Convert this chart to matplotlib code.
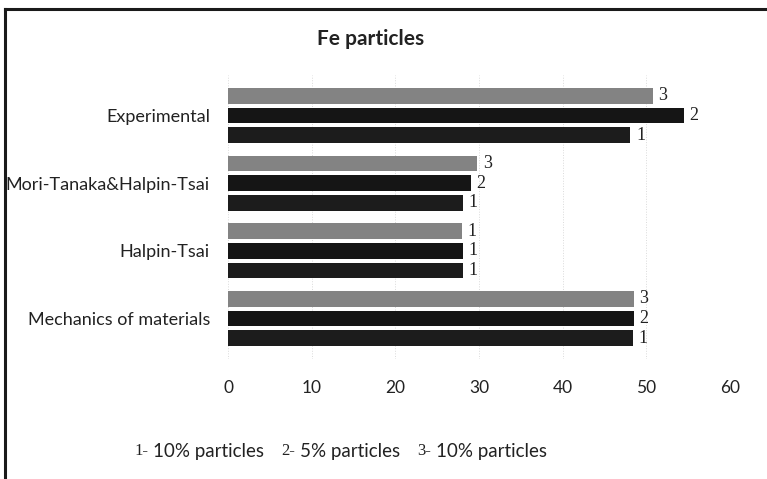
import numpy as np
import matplotlib.pyplot as plt
from matplotlib.lines import Line2D

# modulus results, bottom group first
categories = ['Mechanics of materials', 'Halpin-Tsai', 'Mori-Tanaka&Halpin-Tsai', 'Experimental']
s1 = [48.4, 28.1, 28.1, 48.1]
s2 = [48.5, 28.1, 29.0, 54.5]
s3 = [48.5, 28.0, 29.8, 50.8]
lab1 = ['1', '1', '1', '1']
lab2 = ['2', '1', '2', '2']
lab3 = ['3', '1', '3', '3']
xticks = [0, 10, 20, 30, 40, 50, 60]
legend_parts = [('1-', '10% particles'), ('2-', '5% particles'), ('3-', '10% particles')]

sans = ['Lato', 'DejaVu Sans']
serif = ['Liberation Serif', 'DejaVu Serif']

fig = plt.figure(figsize=(7.67, 4.79), dpi=100)
ax = fig.add_axes([0.2973, 0.2505, 0.6545, 0.593])

y = np.arange(len(categories))
step = 0.291
h = 0.23
series = [(s3, lab3, '#838383', step), (s2, lab2, '#151515', 0.0), (s1, lab1, '#1c1c1c', -step)]
for vals, labs, col, off in series:
    bars = ax.barh(y + off, vals, height=h, color=col, zorder=3)
    for b, t in zip(bars, labs):
        ax.annotate(t, (b.get_width(), b.get_y() + b.get_height() / 2),
                    xytext=(4, 0), textcoords='offset points', va='center', ha='left',
                    fontsize=13, family=serif, color='#222222')

ax.set_xlim(0, 60)
ax.set_ylim(-0.6, 3.6)
ax.set_xticks(xticks)
ax.set_yticks(y)
ax.set_yticklabels(categories, family=sans, fontsize=13, color='#222222')
ax.tick_params(axis='x', length=0, pad=15, labelsize=12.5, labelcolor='#222222')
ax.tick_params(axis='y', length=0, pad=13)
for lbl in ax.get_xticklabels():
    lbl.set_family(sans)
for sp in ax.spines.values():
    sp.set_visible(False)
ax.grid(axis='x', color='#dadada', linestyle=':', linewidth=0.7, zorder=0)

fig.text(0.483, 0.919, 'Fe particles', ha='center', va='center', family=sans,
         fontsize=15, fontweight='bold', color='#222222')

# frame lines across the top and down the left side
fig.add_artist(Line2D([0.0065, 1.0], [0.981, 0.981], transform=fig.transFigure, color='#1a1a1a', lw=2.2))
fig.add_artist(Line2D([0.0065, 0.0065], [0.0, 0.981], transform=fig.transFigure, color='#1a1a1a', lw=2.2))

# legend line: serif numbers followed by sans descriptions
fig.canvas.draw()
r = fig.canvas.get_renderer()
x = 134
ypix = 479 - 451
for num, desc in legend_parts:
    t = fig.text(x / 767, ypix / 479, num, family=serif, fontsize=12, va='center', color='#222222')
    x = t.get_window_extent(r).x1 + 5
    t = fig.text(x / 767, ypix / 479, desc, family=sans, fontsize=13.5, va='center', color='#222222')
    x = t.get_window_extent(r).x1 + 17

fig.savefig('out.png', dpi=100)
